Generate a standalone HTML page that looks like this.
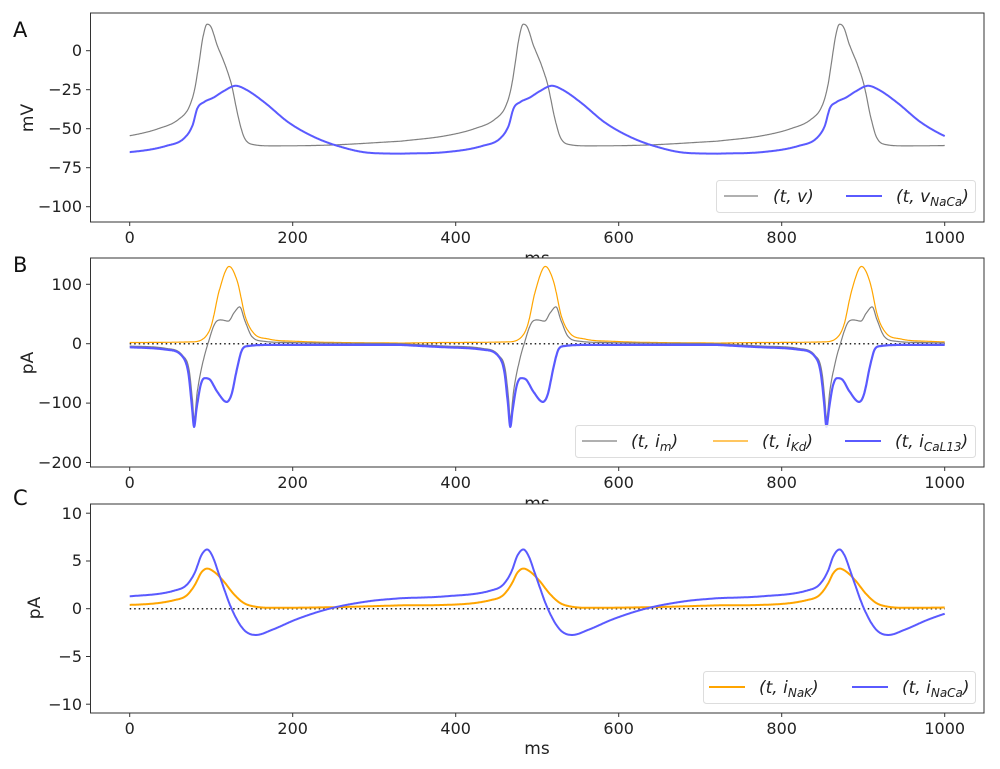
<!DOCTYPE html>
<html><head><meta charset="utf-8">
<style>
html,body{margin:0;padding:0;background:#fff;}
svg{display:block;font-family:"DejaVu Sans","Liberation Sans",sans-serif;}
.tk{font-size:16px;fill:#222;}
.lab{font-size:17px;fill:#222;}
.let{font-size:21px;fill:#111;}
.lg{font-size:17px;fill:#222;font-style:italic;}
.sub{font-size:12px;}
</style></head><body>
<svg id="s" width="1000" height="769" viewBox="0 0 1000 769" xmlns="http://www.w3.org/2000/svg">
<rect width="1000" height="769" fill="#fff"/>
<!-- Panel A -->
<g id="gA"></g>
<rect x="90.5" y="13" width="893.5" height="209" fill="none" stroke="#333" stroke-width="1"/>
<g class="tk" text-anchor="end">
<text x="82" y="56">0</text><text x="82" y="95">−25</text><text x="82" y="134">−50</text><text x="82" y="173">−75</text><text x="82" y="212">−100</text>
</g>
<g stroke="#333"><line x1="86" x2="90.5" y1="50.7" y2="50.7"/><line x1="86" x2="90.5" y1="89.7" y2="89.7"/><line x1="86" x2="90.5" y1="128.7" y2="128.7"/><line x1="86" x2="90.5" y1="167.7" y2="167.7"/><line x1="86" x2="90.5" y1="206.7" y2="206.7"/></g>
<g stroke="#333"><line x1="129.7" x2="129.7" y1="222" y2="226"/><line x1="292.7" x2="292.7" y1="222" y2="226"/><line x1="455.7" x2="455.7" y1="222" y2="226"/><line x1="618.7" x2="618.7" y1="222" y2="226"/><line x1="781.7" x2="781.7" y1="222" y2="226"/><line x1="944.7" x2="944.7" y1="222" y2="226"/></g>
<g class="tk" text-anchor="middle"><text x="129.7" y="243">0</text><text x="292.7" y="243">200</text><text x="455.7" y="243">400</text><text x="618.7" y="243">600</text><text x="781.7" y="243">800</text><text x="944.7" y="243">1000</text></g>
<text class="lab" x="537" y="264" text-anchor="middle">ms</text>
<text class="lab" transform="translate(33,118) rotate(-90)" text-anchor="middle">mV</text>
<text class="let" x="13" y="37">A</text>
<rect x="716.5" y="180.5" width="259" height="32" rx="3" fill="#fff" fill-opacity="0.85" stroke="#ddd"/>
<line x1="724" x2="758" y1="196" y2="196" stroke="#808080" stroke-width="1.2"/>
<text class="lg" x="773" y="202">(t, v)</text>
<line x1="846" x2="882" y1="196" y2="196" stroke="#5a5aff" stroke-width="2"/>
<text class="lg" x="896" y="202">(t, v<tspan class="sub" dy="4">NaCa</tspan><tspan dy="-4">)</tspan></text>

<!-- Panel B -->
<rect x="90.5" y="258" width="893.5" height="209" fill="#fff"/>
<g id="gB"></g>
<rect x="90.5" y="258" width="893.5" height="209" fill="none" stroke="#333" stroke-width="1"/>
<g class="tk" text-anchor="end">
<text x="82" y="290">100</text><text x="82" y="349">0</text><text x="82" y="408">−100</text><text x="82" y="468">−200</text>
</g>
<g stroke="#333"><line x1="86" x2="90.5" y1="284.3" y2="284.3"/><line x1="86" x2="90.5" y1="343.7" y2="343.7"/><line x1="86" x2="90.5" y1="403.1" y2="403.1"/><line x1="86" x2="90.5" y1="462.5" y2="462.5"/></g>
<g stroke="#333"><line x1="129.7" x2="129.7" y1="467" y2="471"/><line x1="292.7" x2="292.7" y1="467" y2="471"/><line x1="455.7" x2="455.7" y1="467" y2="471"/><line x1="618.7" x2="618.7" y1="467" y2="471"/><line x1="781.7" x2="781.7" y1="467" y2="471"/><line x1="944.7" x2="944.7" y1="467" y2="471"/></g>
<g class="tk" text-anchor="middle"><text x="129.7" y="488">0</text><text x="292.7" y="488">200</text><text x="455.7" y="488">400</text><text x="618.7" y="488">600</text><text x="781.7" y="488">800</text><text x="944.7" y="488">1000</text></g>
<text class="lab" x="537" y="509" text-anchor="middle">ms</text>
<text class="lab" transform="translate(33,363) rotate(-90)" text-anchor="middle">pA</text>
<text class="let" x="13" y="272">B</text>
<rect x="575.5" y="425.5" width="400" height="32" rx="3" fill="#fff" fill-opacity="0.85" stroke="#ddd"/>
<line x1="582" x2="617" y1="441" y2="441" stroke="#808080" stroke-width="1.2"/>
<text class="lg" x="631" y="447">(t, i<tspan class="sub" dy="4">m</tspan><tspan dy="-4">)</tspan></text>
<line x1="713" x2="748" y1="441" y2="441" stroke="#ffa500" stroke-width="1.2"/>
<text class="lg" x="762" y="447">(t, i<tspan class="sub" dy="4">Kd</tspan><tspan dy="-4">)</tspan></text>
<line x1="845" x2="881" y1="441" y2="441" stroke="#5a5aff" stroke-width="2"/>
<text class="lg" x="895" y="447">(t, i<tspan class="sub" dy="4">CaL13</tspan><tspan dy="-4">)</tspan></text>

<!-- Panel C -->
<rect x="90.5" y="504" width="893.5" height="209" fill="#fff"/>
<g id="gC"></g>
<rect x="90.5" y="504" width="893.5" height="209" fill="none" stroke="#333" stroke-width="1"/>
<g class="tk" text-anchor="end">
<text x="82" y="519">10</text><text x="82" y="566">5</text><text x="82" y="614">0</text><text x="82" y="662">−5</text><text x="82" y="710">−10</text>
</g>
<g stroke="#333"><line x1="86" x2="90.5" y1="513.2" y2="513.2"/><line x1="86" x2="90.5" y1="561" y2="561"/><line x1="86" x2="90.5" y1="608.7" y2="608.7"/><line x1="86" x2="90.5" y1="656.5" y2="656.5"/><line x1="86" x2="90.5" y1="704.2" y2="704.2"/></g>
<g stroke="#333"><line x1="129.7" x2="129.7" y1="713" y2="717"/><line x1="292.7" x2="292.7" y1="713" y2="717"/><line x1="455.7" x2="455.7" y1="713" y2="717"/><line x1="618.7" x2="618.7" y1="713" y2="717"/><line x1="781.7" x2="781.7" y1="713" y2="717"/><line x1="944.7" x2="944.7" y1="713" y2="717"/></g>
<g class="tk" text-anchor="middle"><text x="129.7" y="734">0</text><text x="292.7" y="734">200</text><text x="455.7" y="734">400</text><text x="618.7" y="734">600</text><text x="781.7" y="734">800</text><text x="944.7" y="734">1000</text></g>
<text class="lab" x="537" y="754" text-anchor="middle">ms</text>
<text class="lab" transform="translate(40,608) rotate(-90)" text-anchor="middle">pA</text>
<text class="let" x="13" y="505">C</text>
<rect x="703.5" y="671.5" width="272" height="32" rx="3" fill="#fff" fill-opacity="0.85" stroke="#ddd"/>
<line x1="709" x2="745" y1="687" y2="687" stroke="#ffa500" stroke-width="2"/>
<text class="lg" x="759" y="693">(t, i<tspan class="sub" dy="4">NaK</tspan><tspan dy="-4">)</tspan></text>
<line x1="852" x2="888" y1="687" y2="687" stroke="#5a5aff" stroke-width="2"/>
<text class="lg" x="902" y="693">(t, i<tspan class="sub" dy="4">NaCa</tspan><tspan dy="-4">)</tspan></text>
</svg>
<script>
function mono(pts){
  var n=pts.length,xs=pts.map(p=>p[0]),ys=pts.map(p=>p[1]),d=[],m=[];
  for(var i=0;i<n-1;i++)d.push((ys[i+1]-ys[i])/(xs[i+1]-xs[i]));
  m[0]=d[0];m[n-1]=d[n-2];
  for(i=1;i<n-1;i++){m[i]=(d[i-1]*d[i]<=0)?0:(d[i-1]+d[i])/2;}
  for(i=0;i<n-1;i++){if(d[i]==0){m[i]=0;m[i+1]=0;continue;}var a=m[i]/d[i],b=m[i+1]/d[i],s=a*a+b*b;if(s>9){var t=3/Math.sqrt(s);m[i]=t*a*d[i];m[i+1]=t*b*d[i];}}
  return function(x){var k=0;while(k<n-2&&x>xs[k+1])k++;var h=xs[k+1]-xs[k],t=(x-xs[k])/h,t2=t*t,t3=t2*t;
    return (2*t3-3*t2+1)*ys[k]+(t3-2*t2+t)*h*m[k]+(-2*t3+3*t2)*ys[k+1]+(t3-t2)*h*m[k+1];};
}
var P=388,T0=95;
function ph(t){var d=((t-T0)%P+P)%P;if(d>238)d-=P;return d;}
function X(t){return 129.7+0.815*t;}
var f={
 v:mono([[-150,-58],[-95,-54.5],[-60,-50],[-35,-44],[-22,-36],[-15,-24],[-10,-8],[-5,9],[0,17],[5,15],[12,4],[22,-9],[30,-22],[38,-42],[45,-55],[55,-60],[80,-61],[150,-60.5],[238,-58]]),
 vn:mono([[-150,-66],[-95,-65],[-50,-61],[-28,-56],[-18,-48],[-12,-37],[-4,-33],[8,-30],[20,-26],[35,-22.5],[48,-25],[70,-33],[100,-46],[130,-55],[160,-61],[200,-65.5],[238,-66]]),
 im:mono([[-150,0],[-95,-4],[-50,-8],[-30,-20],[-22,-45],[-18,-95],[-16,-128],[-12,-80],[-5,-30],[1,0],[10,35],[17,40],[26,38],[33,52],[40,62],[46,40],[55,12],[70,4],[100,2],[238,0]]),
 ik:mono([[-150,1],[-95,2],[-20,3],[-5,8],[5,30],[15,90],[27,130],[37,105],[47,45],[57,18],[75,8],[110,4],[238,1]]),
 ic:mono([[-150,-2],[-95,-6],[-50,-10],[-30,-22],[-23,-50],[-19,-100],[-16,-140],[-13,-110],[-8,-70],[-3,-58],[3,-60],[12,-80],[24,-98],[30,-85],[37,-40],[43,-10],[50,-4],[80,-2],[238,-2]]),
 nk:mono([[-150,0.35],[-95,0.4],[-40,0.9],[-25,1.4],[-15,2.5],[-7,3.8],[0,4.2],[8,3.9],[20,2.9],[32,1.6],[45,0.6],[60,0.2],[80,0.1],[150,0.15],[238,0.35]]),
 nc:mono([[-150,1.1],[-95,1.3],[-40,1.9],[-25,2.5],[-15,3.8],[-7,5.6],[0,6.2],[6,5.6],[15,3.5],[30,0],[45,-2.2],[60,-2.75],[80,-2.2],[110,-1.1],[150,0],[200,0.8],[238,1.1]])
};
function path(fn,ymap){var s="";for(var t=0;t<=1000;t+=0.5){s+=(t?"L":"M")+X(t).toFixed(1)+","+ymap(fn(ph(t))).toFixed(1);}return s;}
function add(g,d,c,w){var p=document.createElementNS("http://www.w3.org/2000/svg","path");p.setAttribute("d",d);p.setAttribute("fill","none");p.setAttribute("stroke",c);p.setAttribute("stroke-width",w);p.setAttribute("stroke-linejoin","round");document.getElementById(g).appendChild(p);}
function dot(g,y){var p=document.createElementNS("http://www.w3.org/2000/svg","line");p.setAttribute("x1",X(0));p.setAttribute("x2",X(1000));p.setAttribute("y1",y);p.setAttribute("y2",y);p.setAttribute("stroke","#222");p.setAttribute("stroke-width","1.5");p.setAttribute("stroke-dasharray","1.5,3");document.getElementById(g).appendChild(p);}
var yA=v=>50.7-1.56*v, yB=v=>343.7-0.594*v, yC=v=>608.7-9.55*v;
add("gA",path(f.v,yA),"#808080",1.2);
add("gA",path(f.vn,yA),"#5a5aff",2);
dot("gB",343.7);
add("gB",path(f.ik,yB),"#ffa500",1.2);
add("gB",path(f.im,yB),"#808080",1.2);
add("gB",path(f.ic,yB),"#5a5aff",2.2);
dot("gC",608.7);
add("gC",path(f.nk,yC),"#ffa500",2);
add("gC",path(f.nc,yC),"#5a5aff",2);
</script>
</body></html>
